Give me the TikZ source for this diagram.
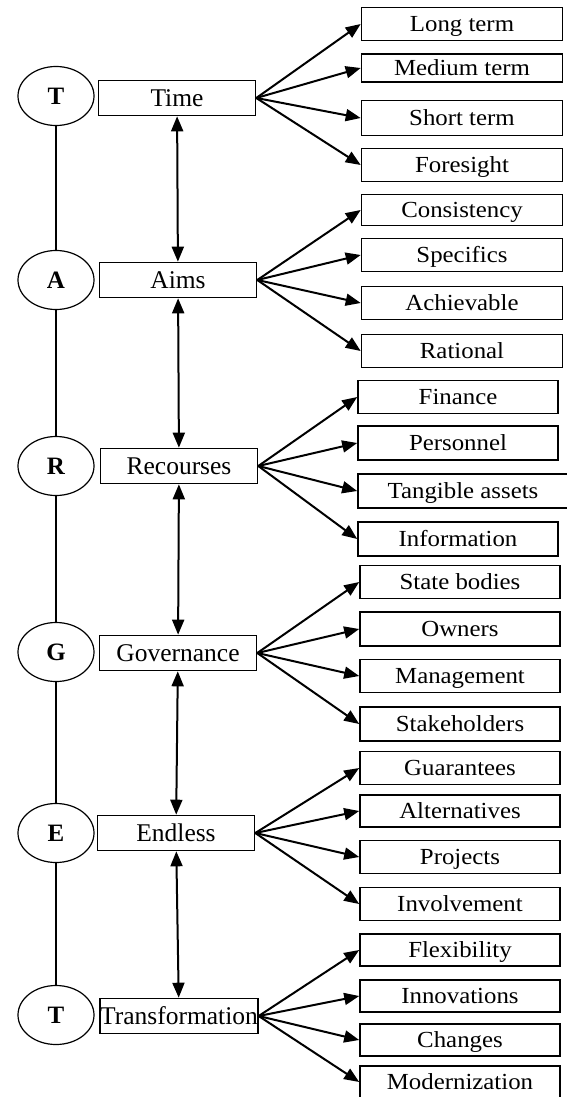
\documentclass[tikz,border=0pt]{standalone}
\usepackage{fontspec}
\setmainfont{Liberation Serif}
\newfontfamily\leaffont{Liberation Serif}[FakeStretch=1.08]
\usetikzlibrary{arrows.meta,shapes.geometric}

\tikzset{
  letter/.style={draw, ellipse, line width=1.2pt, minimum width=76pt, minimum height=59pt, inner sep=0pt, text height=17pt, text depth=0pt, font=\bfseries\fontsize{25}{25}\selectfont},
  midbox/.style={draw, line width=1.6pt, minimum width=157pt, minimum height=35pt, inner sep=0pt, text height=16.5pt, text depth=0pt, font=\fontsize{25.5}{25.5}\selectfont},
  leafbox/.style={draw, line width=1.6pt, minimum width=201pt, minimum height=33pt, inner sep=0pt, text height=15pt, text depth=0pt, font=\leaffont\fontsize{23}{23}\selectfont},
  link/.style={line width=1.2pt},
  fan/.style={line width=2pt, -{Triangle[length=15pt,width=12pt]}},
  pair/.style={line width=2pt, {Triangle[length=15pt,width=12pt]}-{Triangle[length=15pt,width=12pt]}}
}

\begin{document}
\begin{tikzpicture}[x=1pt, y=-1pt]
\useasboundingbox (0,0) rectangle (566,1097);

% letters
\node[letter] (lT) at (56,96) {T};
\node[letter] (lA) at (56,280) {A};
\node[letter] (lR) at (56,466) {R};
\node[letter] (lG) at (56,652) {G};
\node[letter] (lE) at (56,833) {E};
\node[letter] (lT2) at (56,1015) {T};
\draw[link] (lT) -- (lA);
\draw[link] (lA) -- (lR);
\draw[link] (lR) -- (lG);
\draw[link] (lG) -- (lE);
\draw[link] (lE) -- (lT2);

% middle column
\node[midbox] (time) at (177,98) {Time};
\node[midbox] (aims) at (178,280) {Aims};
\node[midbox] (recs) at (179,466) {Recourses};
\node[midbox] (gov) at (178,653) {Governance};
\node[midbox] (endl) at (176,833) {Endless};
\node[midbox] (trans) at (179,1016) {Transformation};
\draw[pair] (time) -- (aims);
\draw[pair] (aims) -- (recs);
\draw[pair] (recs) -- (gov);
\draw[pair] (gov) -- (endl);
\draw[pair] (endl) -- (trans);

% Time
\node[leafbox] (lt) at (462,24) {Long term};
\node[leafbox, minimum height=28pt] (mt) at (462,68) {Medium term};
\node[leafbox, minimum height=35pt] (st) at (462,118) {Short term};
\node[leafbox] (fs) at (462,165) {Foresight};
\draw[fan] (time.east) -- (lt.west);
\draw[fan] (time.east) -- (mt.west);
\draw[fan] (time.east) -- (st.west);
\draw[fan] (time.east) -- (fs.west);

% Aims
\node[leafbox, minimum height=31pt] (cons) at (462,210) {Consistency};
\node[leafbox] (spec) at (462,255) {Specifics};
\node[leafbox] (ach) at (462,303) {Achievable};
\node[leafbox] (rat) at (462,351) {Rational};
\draw[fan] (aims.east) -- (cons.west);
\draw[fan] (aims.east) -- (spec.west);
\draw[fan] (aims.east) -- (ach.west);
\draw[fan] (aims.east) -- (rat.west);

% Recourses
\node[leafbox, minimum width=200pt] (fin) at (458,397) {Finance};
\node[leafbox, minimum width=200pt, minimum height=34pt] (pers) at (458,443) {Personnel};
\node[leafbox, minimum width=210pt, minimum height=34pt] (tang) at (463,491) {Tangible assets};
\node[leafbox, minimum width=200pt, minimum height=34pt] (info) at (458,539) {Information};
\draw[fan] (recs.east) -- (fin.west);
\draw[fan] (recs.east) -- (pers.west);
\draw[fan] (recs.east) -- (tang.west);
\draw[fan] (recs.east) -- (info.west);

% Governance
\node[leafbox, minimum width=200pt] (state) at (460,582) {State bodies};
\node[leafbox, minimum width=200pt, minimum height=34pt] (own) at (460,629) {Owners};
\node[leafbox, minimum width=200pt] (mgmt) at (460,676) {Management};
\node[leafbox, minimum width=200pt, minimum height=34pt] (stake) at (460,724) {Stakeholders};
\draw[fan] (gov.east) -- (state.west);
\draw[fan] (gov.east) -- (own.west);
\draw[fan] (gov.east) -- (mgmt.west);
\draw[fan] (gov.east) -- (stake.west);

% Endless
\node[leafbox, minimum width=200pt] (guar) at (460,768) {Guarantees};
\node[leafbox, minimum width=200pt, minimum height=32pt] (alt) at (460,811) {Alternatives};
\node[leafbox, minimum width=200pt] (proj) at (460,857) {Projects};
\node[leafbox, minimum width=200pt] (inv) at (460,904) {Involvement};
\draw[fan] (endl.east) -- (guar.west);
\draw[fan] (endl.east) -- (alt.west);
\draw[fan] (endl.east) -- (proj.west);
\draw[fan] (endl.east) -- (inv.west);

% Transformation
\node[leafbox, minimum width=200pt, minimum height=32pt] (flex) at (460,950) {Flexibility};
\node[leafbox, minimum width=200pt, minimum height=32pt] (innov) at (460,996) {Innovations};
\node[leafbox, minimum width=200pt, minimum height=32pt] (chg) at (460,1040) {Changes};
\node[leafbox, minimum width=200pt, minimum height=32pt] (mod) at (460,1082) {Modernization};
\draw[fan] (trans.east) -- (flex.west);
\draw[fan] (trans.east) -- (innov.west);
\draw[fan] (trans.east) -- (chg.west);
\draw[fan] (trans.east) -- (mod.west);
\end{tikzpicture}
\end{document}
